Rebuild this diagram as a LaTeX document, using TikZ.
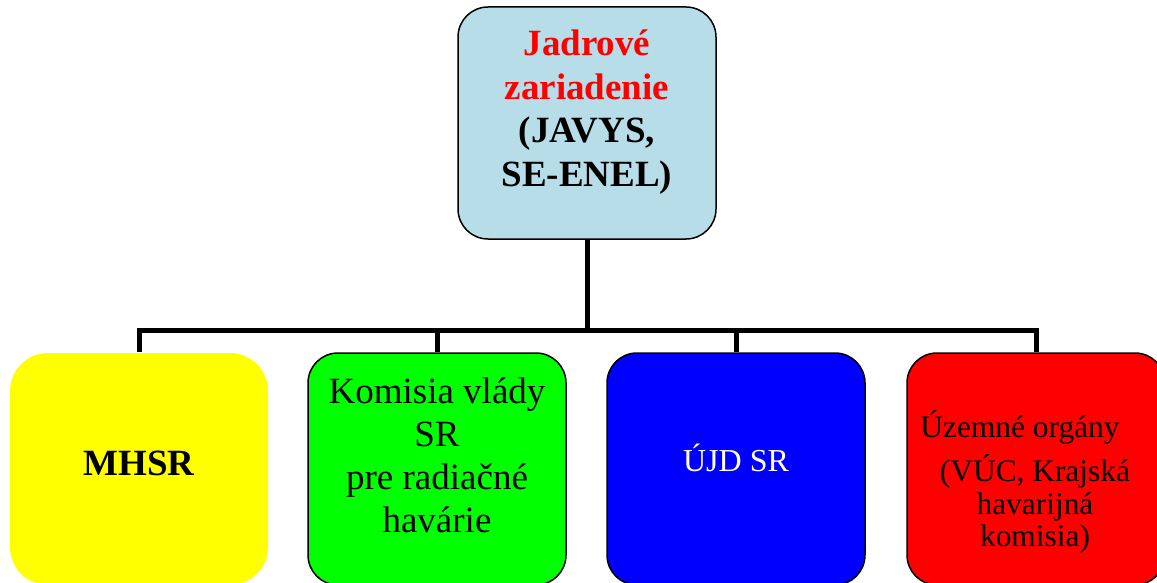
\documentclass[tikz,border=0pt]{standalone}
\usepackage{fontspec}
\setmainfont{Liberation Serif}
\usetikzlibrary{calc}

\definecolor{jzblue}{RGB}{183,222,232}
\definecolor{mhsryellow}{RGB}{255,255,0}
\definecolor{komgreen}{RGB}{0,255,0}
\definecolor{ujdblue}{RGB}{0,0,255}
\definecolor{uzred}{RGB}{255,0,0}

\begin{document}
\begin{tikzpicture}[x=0.5pt,y=-0.5pt,
        box/.style={rounded corners=15pt,minimum width=129pt,minimum height=116pt,draw=black,line width=0.75pt},
        conn/.style={line width=2.5pt},
        txt/.style={align=center,inner sep=0pt}]
        % Fix the picture size
        \useasboundingbox (0,0) rectangle (1157,583);
        % Draw the boxes
        \node[box,fill=jzblue] (jz) at (587,123) {};
        \node[box,fill=mhsryellow,draw=none,rounded corners=19pt] (mhsr) at (139,469) {};
        \node[box,fill=komgreen] (komisia) at (437,469) {};
        \node[box,fill=ujdblue] (ujd) at (736,469) {};
        \node[box,fill=uzred] (uzemne) at (1036,469) {};
        % Connect the top box with the others
        \coordinate (bus) at (587,330);
        \foreach \c in {mhsr,komisia,ujd,uzemne}
            \draw[conn] (jz.south) -- (jz.south |- bus) -| (\c.north);
        % Add the texts
        \node[txt,font=\bfseries\fontsize{18.5}{21.7}\selectfont] (jztext) at (587,112)
            {\textcolor{uzred}{Jadrové}\\\textcolor{uzred}{zariadenie}\\(JAVYS,\\SE-ENEL)};
        \node[txt,font=\bfseries\fontsize{18.5}{21.5}\selectfont] (mhsrtext) at (139,463) {MHSR};
        \node[txt,font=\fontsize{18.5}{21.5}\selectfont] (komisiatext) at (437,455)
            {Komisia vlády\\SR\\pre radiačné\\havárie};
        \node[txt,font=\fontsize{16}{19}\selectfont,text=white,anchor=base] (ujdtext) at (736,471) {ÚJD SR};
        \node[txt,font=\fontsize{15.7}{16.3}\selectfont] (uzemnetext) at (1035,482)
            {Územné orgány\hspace*{15pt}\\[4.2pt](VÚC, Krajská\\havarijná\\komisia)};
    \end{tikzpicture}
\end{document}
